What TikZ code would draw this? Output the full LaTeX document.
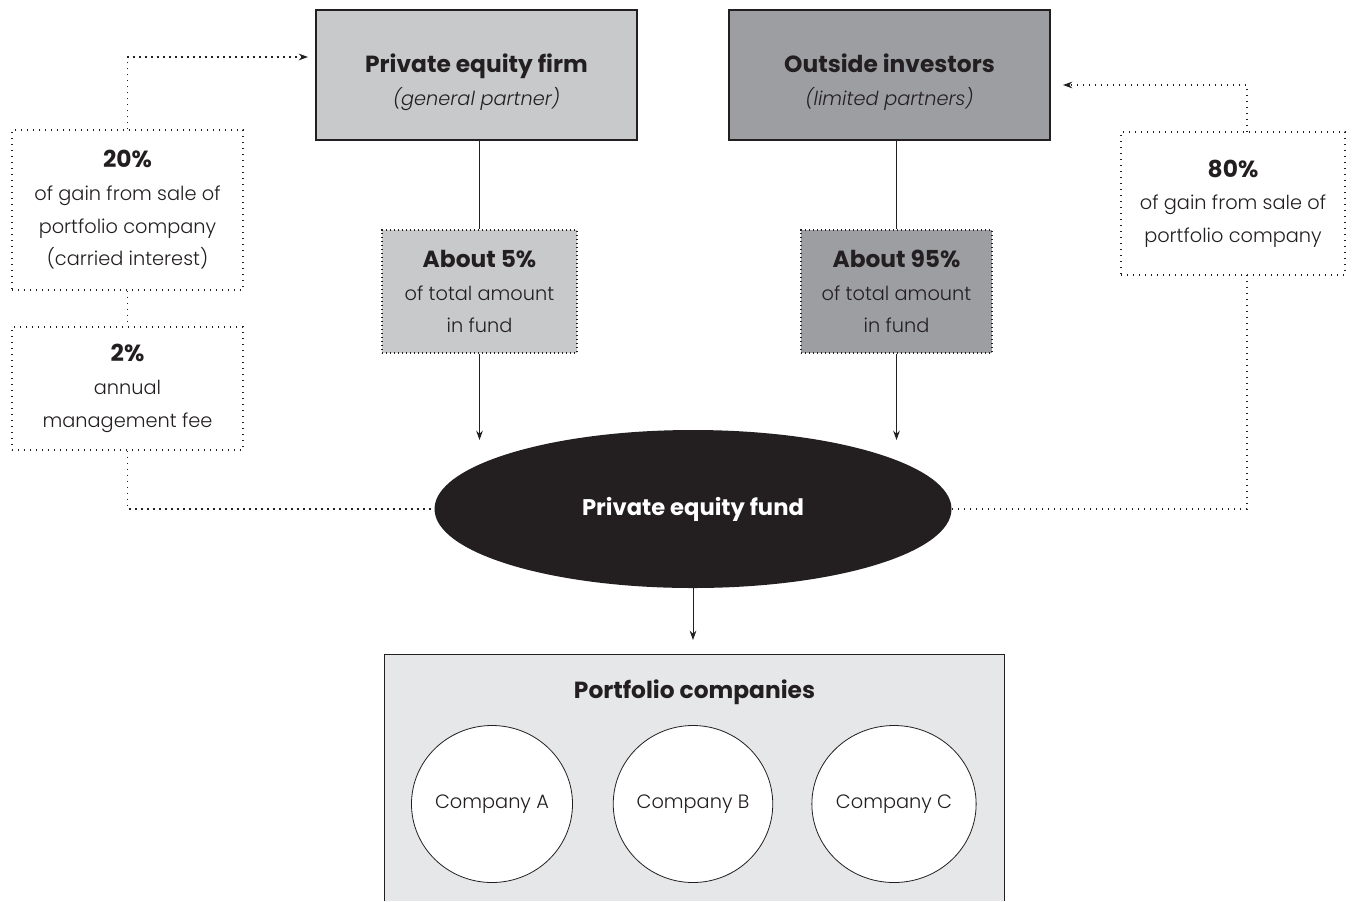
\documentclass[tikz,border=0pt]{standalone}
\usepackage{fontspec}
\setmainfont{Poppins}[UprightFont=* Light, BoldFont=* Bold, ItalicFont=* Light Italic]
\usetikzlibrary{shapes.geometric,arrows.meta}
\definecolor{ink}{HTML}{231F20}
\definecolor{lightg}{HTML}{C8C9CB}
\definecolor{darkg}{HTML}{9D9EA2}
\definecolor{paleg}{HTML}{E6E7E8}
\newcommand{\bt}[1]{{\fontsize{17.5}{24.5}\selectfont\bfseries #1}}
\tikzset{
  txt/.style={font=\fontsize{14.5}{24.5}\selectfont, text=ink, align=center},
  solidbox/.style={draw=ink, line width=0.9pt, inner sep=0pt},
  dotbox/.style={draw=ink, line width=0.9pt, dash pattern=on 0.9pt off 2.1pt, inner sep=0pt, txt},
  outbox/.style={draw=ink, line width=1pt, dash pattern=on 1.1pt off 3.4pt, inner sep=0pt, txt},
  link/.style={draw=ink, line width=0.7pt},
  dotlink/.style={draw=ink, line width=1pt, dash pattern=on 1.1pt off 3.4pt},
  tip/.style={-{Stealth[length=7pt,width=5pt]}},
  comp/.style={ellipse, draw=ink, line width=0.6pt, fill=white, inner sep=0pt,
    minimum width=114pt, minimum height=117.75pt, txt},
}
\begin{document}
\begin{tikzpicture}[x=0.75pt,y=-0.75pt]
\useasboundingbox (0,0) rectangle (1353,901);
% top boxes
\node[solidbox, fill=lightg, minimum width=240.75pt, minimum height=97.5pt] (firm) at (476.5,75) {};
\node[txt] (firmtxt) at (476.5,82) {\bt{Private equity firm}\\\textit{(general partner)}};
\node[solidbox, fill=darkg, minimum width=240.75pt, minimum height=97.5pt] (inv) at (889.5,75) {};
\node[txt] (invtxt) at (889.5,82) {\bt{Outside investors}\\\textit{(limited partners)}};
% share boxes
\node[dotbox, fill=lightg, minimum width=146.25pt, minimum height=92.25pt] (gp) at (479.5,291.5)
  {\bt{About 5\%}\\of total amount\\in fund};
\node[dotbox, fill=darkg, minimum width=143.25pt, minimum height=92.25pt] (lp) at (896.5,291.5)
  {\bt{About 95\%}\\of total amount\\in fund};
% fund
\node[ellipse, fill=ink, inner sep=0pt, minimum width=387.75pt, minimum height=118.5pt,
  font=\fontsize{17}{24.5}\selectfont\bfseries, text=white] (fund) at (693,509) {Private equity fund};
% left boxes
\node[outbox, minimum width=173.25pt, minimum height=120pt] (carry) at (127.5,210)
  {\bt{20\%}\\of gain from sale of\\portfolio company\\(carried interest)};
\node[outbox, minimum width=173.25pt, minimum height=92.25pt] (fee) at (127.5,388.5)
  {\bt{2\%}\\annual\\management fee};
% right box
\node[outbox, minimum width=168pt, minimum height=107.25pt] (gain) at (1233,203.5)
  {\bt{80\%}\\of gain from sale of\\portfolio company};
% portfolio
\node[fill=paleg, inner sep=0pt, minimum width=464.25pt, minimum height=184.5pt] (port) at (694.5,778) {};
\draw[link, line width=0.9pt] (port.south west) -- (port.north west) -- (port.north east) -- (port.south east);
\node[txt] (ptitle) at (694.5,692) {\bt{Portfolio companies}};
\node[comp] (ca) at (492,804) {Company A};
\node[comp] (cb) at (693,804) {Company B};
\node[comp] (cc) at (894,804) {Company C};
% coordinates
\coordinate (gpend) at (479.5,440);
\coordinate (lpend) at (896.5,440);
\coordinate (portend) at (693,640);
\coordinate (firmin) at (308,57);
\coordinate (invin) at (1063,85);
\coordinate (gaintop) at (1247,132);
\coordinate (gainbot) at (1247,275);
% solid connectors
\draw[link] (firm.south -| gp.north) -- (gp.north);
\draw[link] (inv.south -| lp.north) -- (lp.north);
\draw[link, tip] (gp.south) -- (gpend);
\draw[link, tip] (lp.south) -- (lpend);
\draw[link, tip] (fund.south) -- (portend);
% dotted connectors
\draw[dotlink, tip] (carry.north) |- (firmin);
\draw[dotlink] (carry.south) -- (fee.north);
\draw[dotlink] (fee.south) |- (fund.west);
\draw[dotlink, tip] (gaintop) |- (invin);
\draw[dotlink] (gainbot) |- (fund.east);
\end{tikzpicture}
\end{document}
